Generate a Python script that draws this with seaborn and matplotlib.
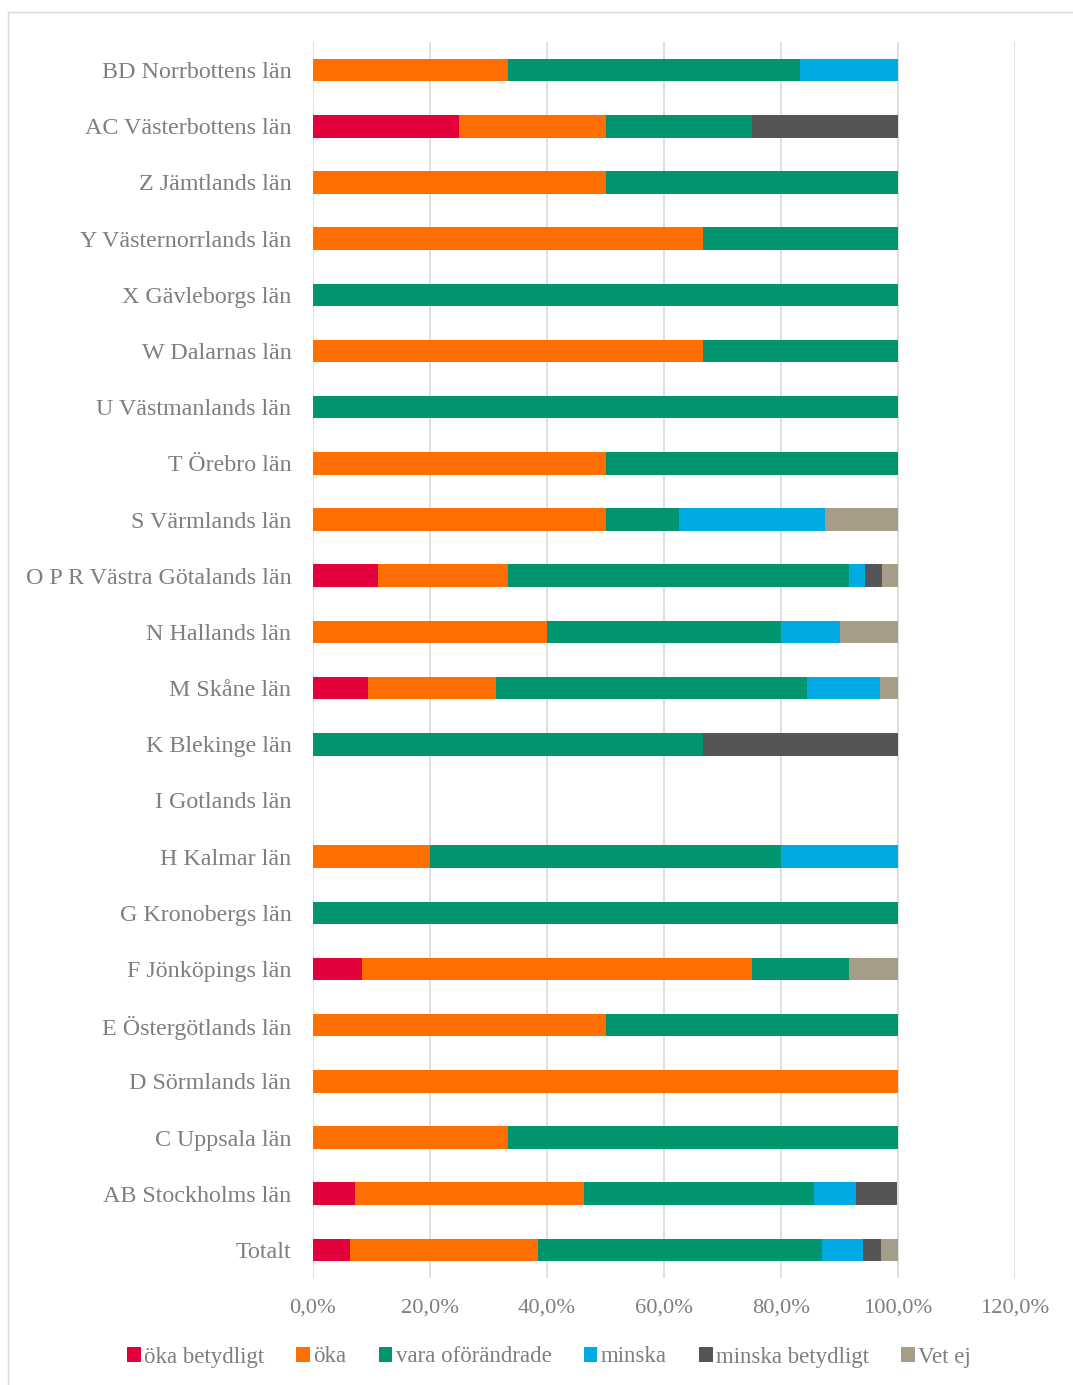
import numpy as np
import pandas as pd
import matplotlib
matplotlib.use("Agg")
import matplotlib.pyplot as plt
import seaborn as sns
from matplotlib.patches import Patch
from matplotlib.lines import Line2D
from matplotlib.ticker import FuncFormatter

# ---------------------------------------------------------------
# data (share of answers per län, in %)
# ---------------------------------------------------------------
lan = ["BD Norrbottens län", "AC Västerbottens län", "Z Jämtlands län",
       "Y Västernorrlands län", "X Gävleborgs län", "W Dalarnas län",
       "U Västmanlands län", "T Örebro län", "S Värmlands län",
       "O P R Västra Götalands län", "N Hallands län", "M Skåne län",
       "K Blekinge län", "I Gotlands län", "H Kalmar län",
       "G Kronobergs län", "F Jönköpings län", "E Östergötlands län",
       "D Sörmlands län", "C Uppsala län", "AB Stockholms län", "Totalt"]

oka_betydligt = [0, 25, 0, 0, 0, 0, 0, 0, 0, 11.1, 0, 9.4, 0, 0, 0, 0, 8.3, 0, 0, 0, 7.1, 6.3]
oka = [33.3, 25, 50, 66.7, 0, 66.7, 0, 50, 50, 22.2, 40, 21.9, 0, 0, 20, 0, 66.7, 50, 100, 33.3, 39.3, 32.2]
vara_oforandrade = [50, 25, 50, 33.3, 100, 33.3, 100, 50, 12.5, 58.3, 40, 53.1, 66.7, 0, 60, 100, 16.7, 50, 0, 66.7, 39.3, 48.5]
minska = [16.7, 0, 0, 0, 0, 0, 0, 0, 25, 2.8, 10, 12.5, 0, 0, 20, 0, 0, 0, 0, 0, 7.1, 7.1]
minska_betydligt = [0, 25, 0, 0, 0, 0, 0, 0, 0, 2.8, 0, 0, 33.3, 0, 0, 0, 0, 0, 0, 0, 7.1, 3.0]
vet_ej = [0, 0, 0, 0, 0, 0, 0, 0, 12.5, 2.8, 10, 3.1, 0, 0, 0, 0, 8.3, 0, 0, 0, 0, 2.9]

series = ["öka betydligt", "öka", "vara oförändrade", "minska", "minska betydligt", "Vet ej"]
colors = ["#E4003B", "#FF6E00", "#00956E", "#00AAE4", "#555555", "#A59D87"]

df = pd.DataFrame({
    "lan": lan,
    "öka betydligt": oka_betydligt,
    "öka": oka,
    "vara oförändrade": vara_oforandrade,
    "minska": minska,
    "minska betydligt": minska_betydligt,
    "Vet ej": vet_ej,
})

# cumulative sums -> draw largest first so the stack shows
cum = df[series].cumsum(axis=1) / 100.0

sns.set_theme(style="white")
plt.rcParams["font.family"] = ["Liberation Serif", "DejaVu Serif"]
text_gray = "#7f7f7f"

fig = plt.figure(figsize=(10.73, 13.85), dpi=100)
ax = fig.add_axes([313 / 1073, 1 - 1278 / 1385, (1015 - 313) / 1073, (1278 - 42) / 1385])

for s, c in reversed(list(zip(series, colors))):
    sns.barplot(x=cum[s], y=df["lan"], color=c, orient="h", ax=ax,
                width=0.4, linewidth=0, saturation=1)

ax.set_xlim(0, 1.2)
ax.set_ylim(21.5, -0.5)
ax.set_xticks(np.arange(0, 1.21, 0.2))
ax.xaxis.set_major_formatter(FuncFormatter(lambda v, p: f"{v * 100:.1f}%".replace(".", ",")))
ax.set_xlabel("")
ax.set_ylabel("")
ax.grid(axis="x", color="#d9d9d9", linewidth=1.2)
ax.set_axisbelow(True)
for sp in ax.spines.values():
    sp.set_visible(False)
ax.tick_params(axis="both", length=0, labelcolor=text_gray)
ax.tick_params(axis="y", labelsize=17.3, pad=15.5)
ax.tick_params(axis="x", labelsize=16.2, pad=15)

handles = [Patch(facecolor=c, edgecolor="none", label=s) for s, c in zip(series, colors)]
fig.legend(handles=handles, loc="center", bbox_to_anchor=(549 / 1073, 1 - 1357 / 1385),
           ncol=6, frameon=False, fontsize=16.5, labelcolor=text_gray,
           handlelength=0.6, handleheight=0.6, handletextpad=0.15, columnspacing=1.4)

# outer chart-area border
fig.add_artist(Line2D([8 / 1073, 8 / 1073], [0, 1 - 12 / 1385], transform=fig.transFigure,
                      color="#d9d9d9", linewidth=1))
fig.add_artist(Line2D([8 / 1073, 1], [1 - 12 / 1385, 1 - 12 / 1385], transform=fig.transFigure,
                      color="#d9d9d9", linewidth=1))

fig.savefig("out.png", dpi=100, facecolor="white")
